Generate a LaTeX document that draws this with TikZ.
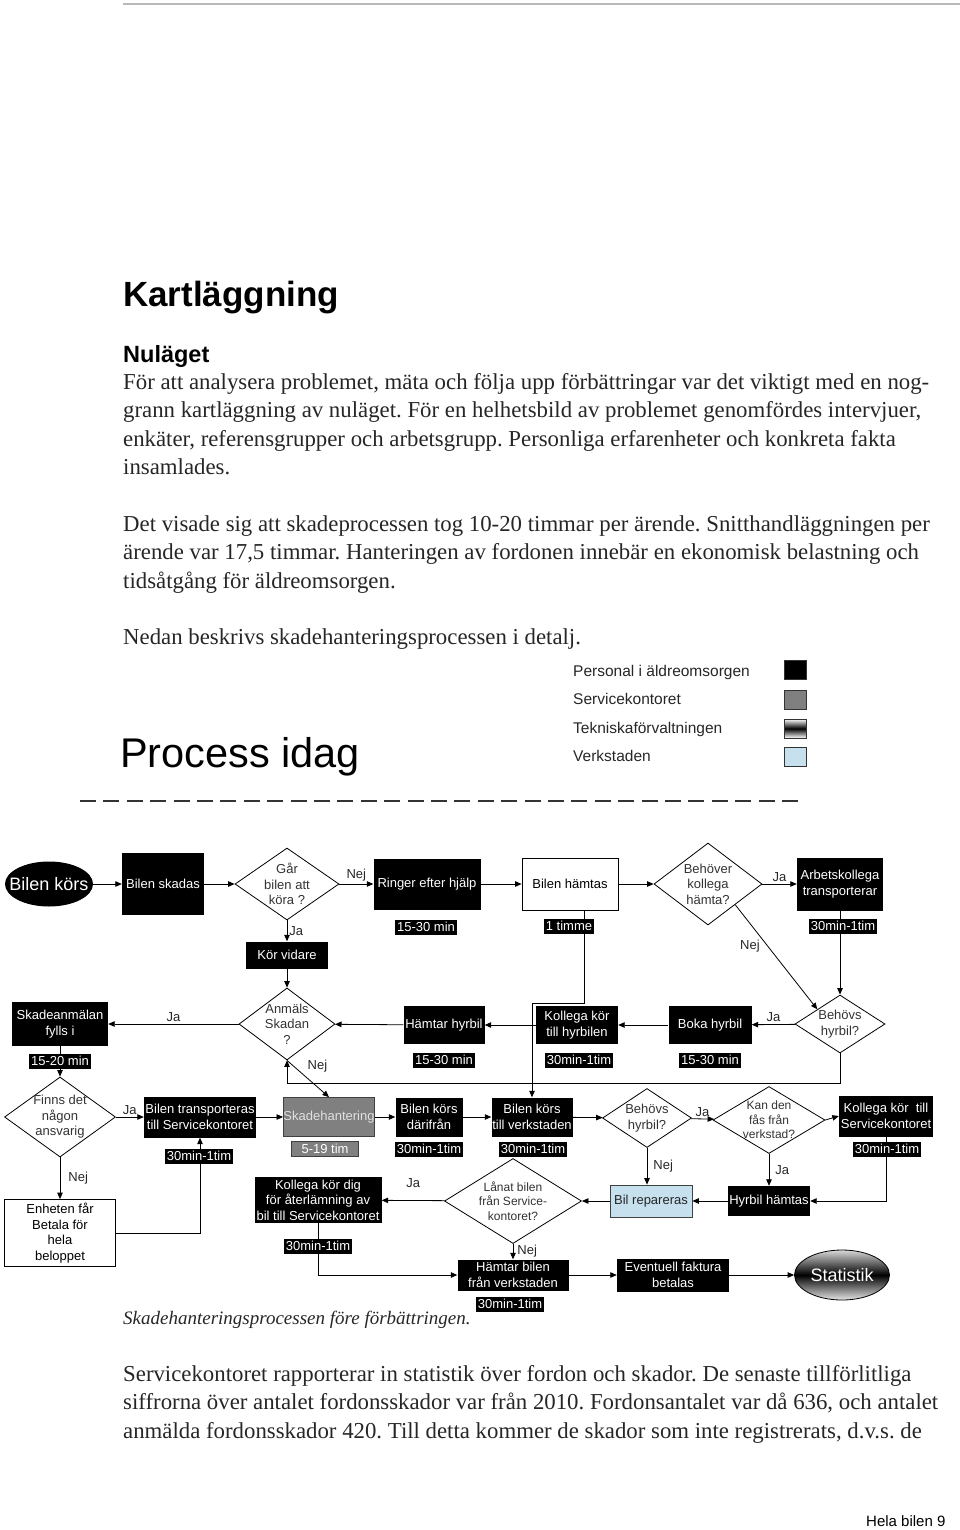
\documentclass[tikz,border=0pt]{standalone}
\usepackage{fontspec}
\setmainfont{Liberation Serif}
\setsansfont{Liberation Sans}
\usetikzlibrary{shapes.geometric,arrows.meta}
\frenchspacing

\newcommand\flowfont{\sffamily\fontsize{13}{15.5}\selectfont}
\newcommand\smallflow{\sffamily\fontsize{12}{14.5}\selectfont}
\newcommand\bodyfont{\fontsize{22.8}{28.5}\selectfont}
\definecolor{verkblue}{HTML}{C6E0EE}
\definecolor{servgrey}{HTML}{808080}

\tikzset{
  pbox/.style={fill=black, text=white, font=\flowfont, align=center, inner sep=0pt},
  wbox/.style={draw=black, fill=white, text=black, font=\flowfont, align=center, inner sep=0pt, line width=0.8pt},
  sbox/.style={draw=black!75, fill=servgrey, text=white!88!black, font=\flowfont, align=center, inner sep=0pt, line width=0.8pt},
  bluebox/.style={draw=black!75, fill=verkblue, text=black!85, font=\flowfont, align=center, inner sep=0pt, line width=0.8pt},
  dia/.style={diamond, draw=black, fill=white, inner sep=0pt, line width=0.8pt},
  dtext/.style={font=\flowfont, align=center, text=black!80, inner sep=0pt},
  etext/.style={font=\sffamily\fontsize{18}{20}\selectfont, text=white, inner sep=0pt},
  tag/.style={fill=black, text=white, font=\flowfont, inner xsep=2pt, inner ysep=0pt, minimum height=15},
  sz/.style 2 args={minimum width=#1, minimum height=#2},
  arr/.style={-{Triangle[length=6.5pt,width=5.5pt]}, line width=0.8pt},
  lab/.style={font=\flowfont, text=black!85, inner sep=2pt},
  body/.style={font=\bodyfont, text=black!85, inner sep=0pt, anchor=base west},
  legend/.style={font=\sffamily\fontsize{15.5}{18}\selectfont, text=black!85, inner sep=0pt, anchor=base west},
  lgbox/.style={draw=black!80, line width=0.8pt, minimum width=22, minimum height=19, inner sep=0pt},
}

\begin{document}
\begin{tikzpicture}[x=1pt, y=-1pt]
\useasboundingbox (0,0) rectangle (960,1530);
\draw[gray!55, line width=1.5pt] (123,4) -- (960,4);

% headings and text
\node[font=\sffamily\bfseries\fontsize{35}{40}\selectfont, inner sep=0pt, anchor=base west] (title) at (123,306) {Kartläggning};
\node[font=\sffamily\bfseries\fontsize{23.5}{26}\selectfont, inner sep=0pt, anchor=base west] (nulaget) at (123,362) {Nuläget};
\foreach \yy/\txt [count=\i] in {
  389/{För att analysera problemet, mäta och följa upp förbättringar var det viktigt med en nog-},
  417/{grann kartläggning av nuläget. För en helhetsbild av problemet genomfördes intervjuer,},
  446/{enkäter, referensgrupper och arbetsgrupp. Personliga erfarenheter och konkreta fakta},
  474/{insamlades.},
  531/{Det visade sig att skadeprocessen tog 10-20 timmar per ärende. Snitthandläggningen per},
  559/{ärende var 17,5 timmar. Hanteringen av fordonen innebär en ekonomisk belastning och},
  588/{tidsåtgång för äldreomsorgen.},
  644/{Nedan beskrivs skadehanteringsprocessen i detalj.},
  1381/{Servicekontoret rapporterar in statistik över fordon och skador. De senaste tillförlitliga},
  1409/{siffrorna över antalet fordonsskador var från 2010. Fordonsantalet var då 636, och antalet},
  1438/{anmälda fordonsskador 420. Till detta kommer de skador som inte registrerats, d.v.s. de}}
  \node[body] (line\i) at (123,\yy) {\txt};

\node[font=\sffamily\fontsize{41.5}{45}\selectfont, inner sep=0pt, anchor=base west] (process) at (120,767) {Process idag};

% legend
\node[legend] (lt1) at (573,676.5) {Personal i äldreomsorgen};
\node[legend] (lt2) at (573,704.5) {Servicekontoret};
\node[legend] (lt3) at (573,733.5) {Tekniskaförvaltningen};
\node[legend] (lt4) at (573,761.5) {Verkstaden};
\node[lgbox, fill=black] (lg1) at (795,669.5) {};
\node[lgbox, fill=servgrey] (lg2) at (795,699.5) {};
\node[lgbox, top color=white, bottom color=white, middle color=black] (lg3) at (795,728.5) {};
\node[lgbox, fill=verkblue] (lg4) at (795,756.5) {};

\draw[black!80, line width=1.8pt, dash pattern=on 16pt off 7.4pt] (80,801) -- (805,801);

% row 1
\node[ellipse, fill=black, sz={88}{45}, label={[etext]center:Bilen körs}] (bk) at (49,884) {};
\node[pbox, sz={82}{62}] (bs) at (163,884) {Bilen skadas};
\node[dia, sz={104}{72}, label={[dtext]center:Går\\bilen att\\köra ?}] (d1) at (287,884) {};
\node[pbox, sz={107}{51}] (ring) at (427,884) {Ringer efter hjälp};
\node[wbox, sz={96}{52}] (hamt) at (570,884) {Bilen hämtas};
\node[dia, sz={108}{82}, label={[dtext]center:Behöver\\kollega\\hämta?}] (d2) at (708,884) {};
\node[pbox, sz={86}{53}] (arb) at (840,884) {Arbetskollega\\transporterar};
\node[pbox, sz={82}{27}] (korv) at (287,955) {Kör vidare};

% row 2
\node[pbox, sz={96}{44}] (skan) at (60,1024) {Skadeanmälan\\fylls i};
\node[dia, sz={96}{72}, label={[dtext]center:Anmäls\\Skadan\\?}] (d3) at (287,1024) {};
\node[pbox, sz={81}{38}] (hhyr) at (444,1025) {Hämtar hyrbil};
\node[pbox, sz={82}{38}] (kolh) at (577,1025) {Kollega kör\\till hyrbilen};
\node[pbox, sz={83}{38}] (boka) at (710,1025) {Boka hyrbil};
\node[dia, sz={90}{58}, label={[dtext]center:Behövs\\hyrbil?}] (d4) at (840,1024) {};

% row 3
\node[dia, sz={111}{80}, label={[dtext]center:Finns det\\någon\\ansvarig}] (d5) at (60,1117) {};
\node[pbox, sz={112}{41}] (btr) at (200,1117) {Bilen transporteras\\till Servicekontoret};
\node[sbox, sz={89}{39}] (skh) at (329,1117) {Skadehantering};
\node[pbox, sz={67}{39}] (bkd) at (429,1117) {Bilen körs\\därifrån};
\node[pbox, sz={81}{39}] (bkv) at (532,1117) {Bilen körs\\till verkstaden};
\node[dia, sz={89}{59}, label={[dtext]center:Behövs\\hyrbil?}] (d6) at (647,1118) {};
\node[dia, sz={112}{67}, label={[dtext, font=\smallflow]center:Kan den\\fås från\\verkstad?}] (d7) at (769,1120) {};
\node[pbox, sz={94}{41}] (kst) at (886,1116) {Kollega kör\ \ till\\Servicekontoret};

% row 4 and 5
\node[wbox, sz={111}{67}] (enh) at (60,1233) {Enheten får\\Betala för\\hela\\beloppet};
\node[pbox, sz={127}{46}] (kdig) at (318,1200) {Kollega kör dig\\för återlämning av\\bil till Servicekontoret};
\node[dia, sz={137}{85}, label={[dtext, font=\smallflow]center:Lånat bilen\\från Service-\\kontoret?}] (d8) at (513,1201) {};
\node[bluebox, sz={82}{32}] (brep) at (651,1201) {Bil repareras};
\node[pbox, sz={82}{30}] (hh) at (769,1201) {Hyrbil hämtas};
\node[pbox, sz={111}{31}] (hbil) at (513,1275) {Hämtar bilen\\från verkstaden};
\node[pbox, sz={112}{33}] (evf) at (673,1275) {Eventuell faktura\\betalas};
\node[ellipse, draw=black, line width=0.8pt, top color=gray!30, bottom color=gray!20, middle color=black, sz={95}{50}, label={[etext]center:Statistik}] (stat) at (842,1275) {};

\coordinate (lp) at (287,1083);
\coordinate (hp) at (584,1003);

% connectors
\draw[arr] (bk) -- (bs);
\draw[arr] (bs) -- (d1);
\draw[arr] (d1) -- (ring) node[lab, midway, above] {Nej};
\draw[arr] (d1) -- (korv) node[lab, midway, right] {Ja};
\draw[arr] (korv) -- (d3);
\draw[arr] (ring) -- (hamt);
\draw[arr] (hamt) -- (d2);
\draw[arr] (d2) -- (arb) node[lab, midway, above] {Ja};
\draw[arr] (d2.south east) -- (d4.north west) node[lab, pos=0.4, left=6pt] {Nej};
\draw[arr] (arb) -- (d4);
\draw[arr] (d4) -- (boka) node[lab, midway, above] {Ja};
\draw[arr] (boka) -- (kolh);
\draw[arr] (kolh) -- (hhyr);
\draw[arr] (hhyr) -- (d3);
\draw[arr] (d3) -- (skan) node[lab, midway, above] {Ja};
\draw[arr] (d4.south) |- (lp) -- (d3.south);
\draw[arr] (d3.south) -- (skh.north) node[lab, pos=0.15, right=12pt] {Nej};
\draw[arr] (hamt.south -| hp) -- (hp) -| (bkv.north);
\draw[arr] (skan) -- (d5);
\draw[arr] (d5) -- (btr) node[lab, midway, above] {Ja};
\draw[arr] (d5) -- (enh) node[lab, midway, right=6pt] {Nej};
\draw[arr] (enh.east) -| (btr.south);
\draw[arr] (btr) -- (skh);
\draw[arr] (skh) -- (bkd);
\draw[arr] (bkd) -- (bkv);
\draw[arr] (bkv) -- (d6);
\draw[arr] (d6) -- (d7) node[lab, midway, above] {Ja};
\draw[arr] (d7.east) -- (kst.west);
\draw[arr] (kst.south) |- (hh.east);
\draw[arr] (d7) -- (hh) node[lab, midway, right=4pt] {Ja};
\draw[arr] (hh) -- (brep);
\draw[arr] (d6.south) -- (d6.south |- brep.north) node[lab, midway, right=4pt] {Nej};
\draw[arr] (brep) -- (d8);
\draw[arr] (d8) -- (kdig) node[lab, midway, above=10pt] {Ja};
\draw[arr] (kdig.south) |- (hbil.west);
\draw[arr] (d8) -- (hbil) node[lab, midway, right=2pt] {Nej};
\draw[arr] (hbil) -- (evf);
\draw[arr] (evf) -- (stat);

% time tags
\node[tag] (t1) at (426,927) {15-30 min};
\node[tag] (t2) at (569,926) {1 timme};
\node[tag] (t3) at (843,926) {30min-1tim};
\node[tag] (t4) at (60,1061) {15-20 min};
\node[tag] (t5) at (444,1060) {15-30 min};
\node[tag] (t6) at (579,1060) {30min-1tim};
\node[tag] (t7) at (710,1060) {15-30 min};
\node[tag] (t8) at (199,1156) {30min-1tim};
\node[tag, fill=servgrey, draw=black!75, minimum width=67] (t9) at (325,1149) {5-19 tim};
\node[tag] (t10) at (429,1149) {30min-1tim};
\node[tag] (t11) at (533,1149) {30min-1tim};
\node[tag] (t12) at (887,1149) {30min-1tim};
\node[tag] (t13) at (318,1246) {30min-1tim};
\node[tag] (t14) at (510,1304) {30min-1tim};

\node[font=\itshape\fontsize{19}{22}\selectfont, text=black!85, inner sep=0pt, anchor=base west] (caption) at (123,1324) {Skadehanteringsprocessen före förbättringen.};
\node[font=\sffamily\fontsize{15}{18}\selectfont, inner sep=0pt, anchor=base west] (footer) at (866,1526) {Hela bilen 9};
\end{tikzpicture}
\end{document}
